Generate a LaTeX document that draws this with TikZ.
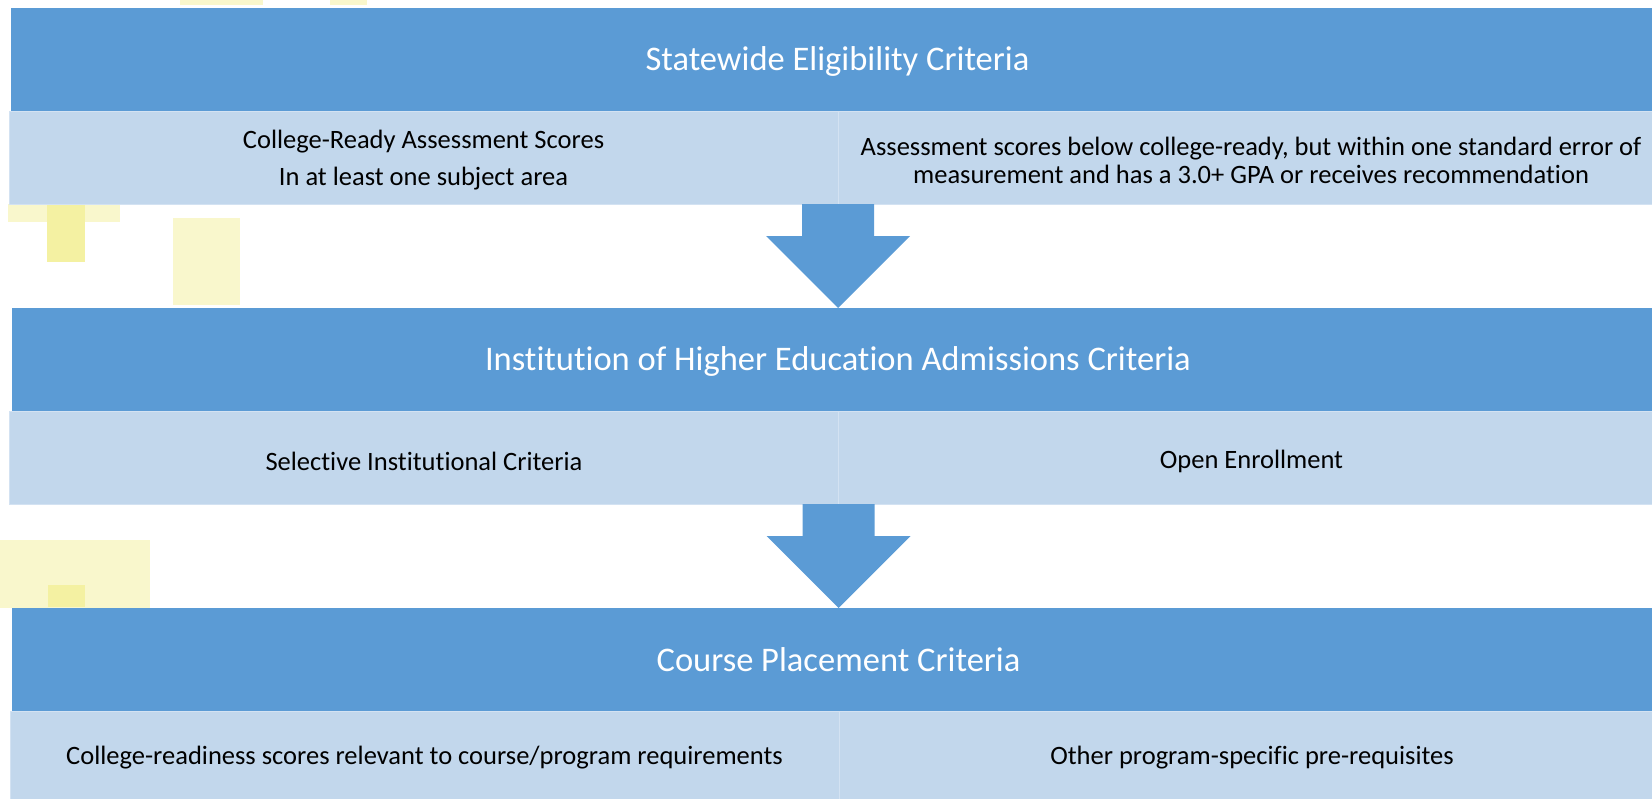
\documentclass[tikz,border=0pt]{standalone}
\usepackage{fontspec}
\setmainfont{Carlito}[Ligatures=NoCommon]
\usetikzlibrary{positioning}

\definecolor{barblue}{HTML}{5B9BD5}
\definecolor{cellblue}{HTML}{C2D7EC}
\definecolor{cellline}{HTML}{D3E2F2}
\definecolor{paleyellow}{HTML}{F9F7CC}
\definecolor{markyellow}{HTML}{F4F1A2}

\begin{document}
\begin{tikzpicture}[x=1pt, y=1pt, node distance=104pt]

	\tikzstyle{header} = [rectangle, minimum width=1653pt, minimum height=103pt, inner sep=0pt, outer sep=0pt, text centered, fill=barblue, text=white, font=\fontsize{34.5}{40}\selectfont]
	\tikzstyle{cell} = [rectangle, minimum height=93pt, inner sep=0pt, outer sep=0pt, align=center, fill=cellblue, draw=cellline, line width=0.8pt, font=\fontsize{26.5}{28}\selectfont]
	\tikzstyle{leftcell} = [cell, minimum width=829pt]
	\tikzstyle{rightcell} = [cell, minimum width=826pt]
	\tikzstyle{bigarrow} = [fill=barblue]
	\tikzstyle{palespot} = [fill=paleyellow]
	\tikzstyle{markspot} = [fill=markyellow]

	\useasboundingbox (0,0) rectangle (1652,-798);

	% Highlighter marks
	\fill[palespot] (180,0) rectangle (263,-5);
	\fill[palespot] (330,0) rectangle (367,-5);
	\fill[palespot] (8,-204) rectangle (120,-222);
	\fill[markspot] (47,-204) rectangle (85,-262);
	\fill[palespot] (173,-218) rectangle (240,-305);
	\fill[palespot] (0,-540) rectangle (150,-608);
	\fill[markspot] (48,-585) rectangle (85,-607);

	% Nodes
	\node (state) [header, anchor=north west] at (11,-8) {\raisebox{-2pt}[\height][\depth]{Statewide Eligibility Criteria}};
	\node (ready) [leftcell, anchor=north west] at ([xshift=-2pt]state.south west) {\raisebox{-3pt}[\height][\depth]{College-Ready Assessment Scores}\\[9pt]\raisebox{-3pt}[\height][\depth]{In at least one subject area}};
	\node (nearready) [rightcell, right=0pt of ready] {\raisebox{-3pt}[\height][\depth]{Assessment scores below college-ready, but within one standard error of}\\\raisebox{-3pt}[\height][\depth]{measurement and has a 3.0+ GPA or receives recommendation}};

	\node (institution) [header, below=of ready.south east] {\raisebox{-2pt}[\height][\depth]{Institution of Higher Education Admissions Criteria}};
	\node (selective) [leftcell, anchor=north west] at ([xshift=-2pt]institution.south west) {\raisebox{-4pt}[\height][\depth]{Selective Institutional Criteria}};
	\node (open) [rightcell, right=0pt of selective] {\raisebox{-4pt}[\height][\depth]{Open Enrollment}};

	\node (placement) [header, below=of selective.south east] {Course Placement Criteria};
	\node (scores) [leftcell, anchor=north west] at ([xshift=-2pt]placement.south west) {College-readiness scores relevant to course/program requirements};
	\node (prereq) [rightcell, right=0pt of scores] {Other program-specific pre-requisites};

	% Arrows
	\coordinate (a1) at (ready.south east);
	\coordinate (a2) at (selective.south east);
	\fill[bigarrow] ([xshift=-36pt]a1) -- ++(0,-32) -- ++(-36,0) -- (institution.north -| a1) -- ([xshift=72pt,yshift=-32pt]a1) -- ++(-36,0) -- ([xshift=36pt]a1) -- cycle;
	\fill[bigarrow] ([xshift=-36pt]a2) -- ++(0,-32) -- ++(-36,0) -- (placement.north -| a2) -- ([xshift=72pt,yshift=-32pt]a2) -- ++(-36,0) -- ([xshift=36pt]a2) -- cycle;

\end{tikzpicture}
\end{document}
